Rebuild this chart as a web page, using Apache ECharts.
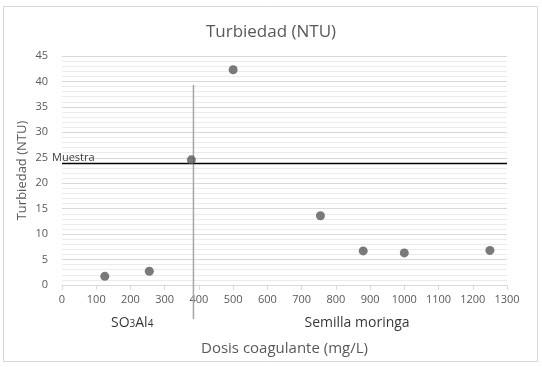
<!DOCTYPE html>
<html><head><meta charset="utf-8">
<script src="https://cdn.jsdelivr.net/npm/echarts@6/dist/echarts.min.js"></script>
<style>html,body{margin:0;padding:0;background:#fff}#c{width:542px;height:367px}</style>
</head><body><div id="c"></div>
<script>
const doses = [125, 255, 378, 500, 755, 880, 1000, 1250];
const turbidity = [1.7, 2.7, 24.6, 42.3, 13.6, 6.7, 6.3, 6.8];
const xTicks = {min: 0, max: 1300, interval: 100};
const yTicks = {min: 0, max: 45, interval: 5};
const sampleValue = 24;
const sampleLabel = 'Muestra';
const dividerX = 384;
const dividerRange = [39.3, -6.7];
const groupLabels = [['SO3Al4', 205], ['Semilla moringa', 862]];
const groupLabelY = -7.4;

const font = '"Open Sans", "Noto Sans", sans-serif';
const chart = echarts.init(document.getElementById('c'));
chart.setOption({
  animation: false,
  backgroundColor: '#fff',
  title: {text: 'Turbiedad (NTU)', left: 'center', top: 19,
    textStyle: {fontFamily: font, fontSize: 17, fontWeight: 'normal', color: '#595959'}},
  graphic: [{type: 'rect', shape: {x: 3.5, y: 6.5, width: 534, height: 355},
    style: {fill: null, stroke: '#d9d9d9', lineWidth: 1}, silent: true}],
  grid: {left: 62, right: 35, top: 56, bottom: 82},
  xAxis: {type: 'value', min: xTicks.min, max: xTicks.max, interval: xTicks.interval,
    name: 'Dosis coagulante (mg/L)', nameLocation: 'middle', nameGap: 56,
    nameTextStyle: {fontFamily: font, fontSize: 15, color: '#595959'},
    axisLine: {show: true, onZero: false, lineStyle: {color: '#d9d9d9'}},
    axisTick: {show: true, length: 5, lineStyle: {color: '#d9d9d9'}},
    axisLabel: {fontFamily: font, fontSize: 11, color: '#595959', margin: 9, formatter: v => String(v)},
    splitLine: {show: false}},
  yAxis: {type: 'value', min: yTicks.min, max: yTicks.max, interval: yTicks.interval,
    name: 'Turbiedad (NTU)', nameLocation: 'middle', nameGap: 33, nameRotate: 90,
    nameMoveOverlap: false,
    nameTextStyle: {fontFamily: font, fontSize: 13, color: '#595959'},
    axisLine: {show: false}, axisTick: {show: false},
    axisLabel: {fontFamily: font, fontSize: 11, color: '#595959', margin: 14},
    splitLine: {show: true, lineStyle: {color: '#d9d9d9', width: 1}},
    minorTick: {show: false, splitNumber: 5},
    minorSplitLine: {show: true, lineStyle: {color: '#ebebeb', width: 1}}},
  series: [
    {type: 'scatter', data: doses.map((d, i) => [d, turbidity[i]]), symbolSize: 9,
      itemStyle: {color: '#595959'}, z: 5,
      markLine: {silent: true, symbol: 'none', lineStyle: {color: '#000', width: 1.3, type: 'solid'},
        label: {show: false}, data: [{yAxis: sampleValue}]}},
    {type: 'line', data: [[dividerX, dividerRange[0]], [dividerX, dividerRange[1]]], clip: false,
      symbol: 'none', lineStyle: {color: '#a6a6a6', width: 1.5}, z: 3},
    {type: 'scatter', clip: false, data: [[0, sampleValue]], symbolSize: 0,
      label: {show: true, formatter: sampleLabel, position: 'right', offset: [-15, -5],
        fontFamily: font, fontSize: 11, color: '#000'}},
    {type: 'scatter', clip: false, symbolSize: 0,
      data: groupLabels.map(g => ({value: [g[1], groupLabelY], name: g[0]})),
      label: {show: true, position: 'inside',
        formatter: p => p.name === 'SO3Al4' ? '{n|SO}{s|3}{n|Al}{s|4}' : '{n|' + p.name + '}',
        rich: {n: {fontFamily: font, fontSize: 14, color: '#000'},
               s: {fontFamily: font, fontSize: 10, color: '#000', padding: [3, 0, 0, 0]}}}}
  ]
});
</script></body></html>
